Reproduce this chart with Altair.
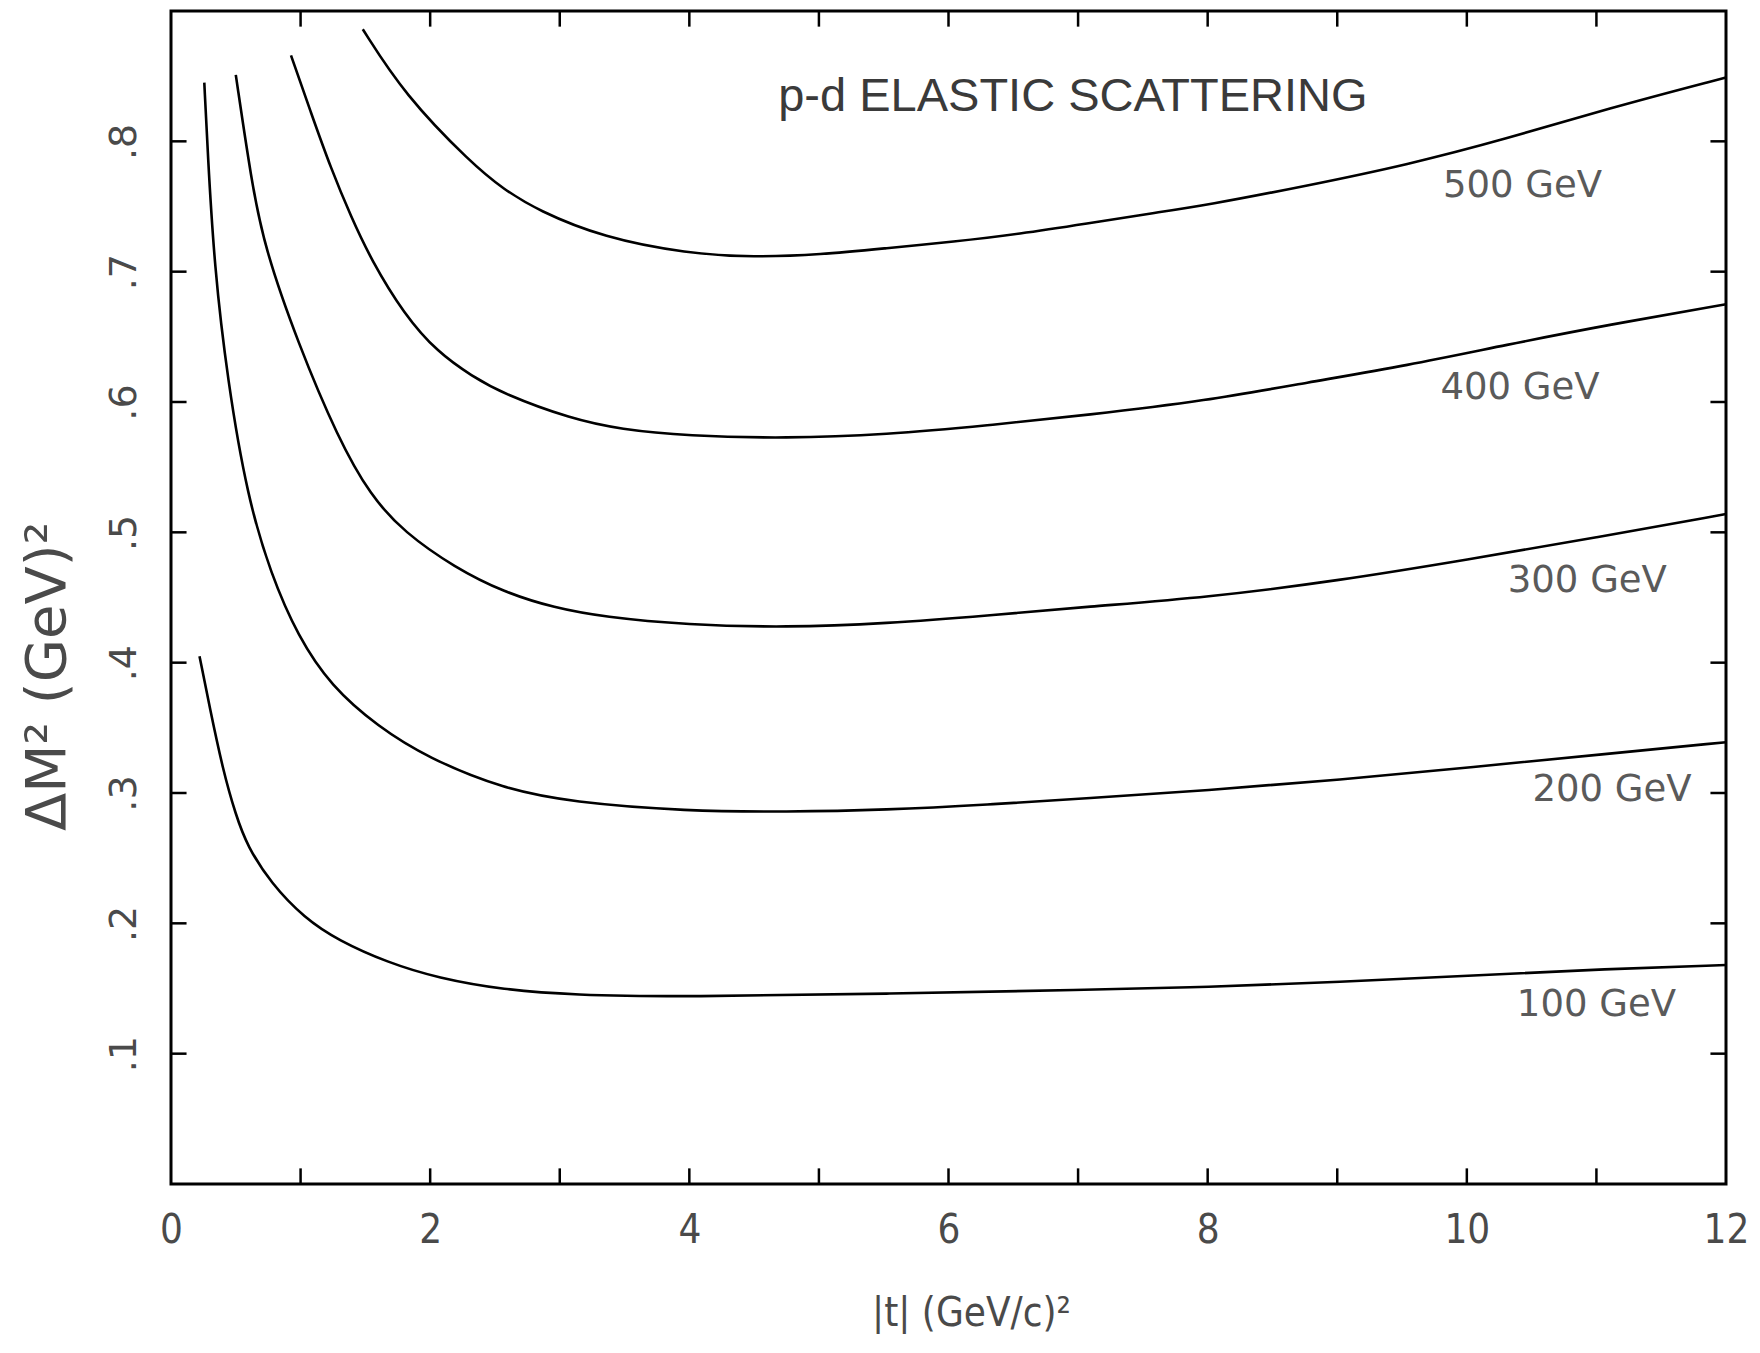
import altair as alt
import pandas as pd

# ---- data ----
t_100 = [0.22, 0.30, 0.40, 0.50, 0.59, 0.77, 1.03, 1.29, 1.67, 2.06, 2.57, 3.09, 3.98, 5.52, 7.07, 7.99, 9.02, 10.05, 11.08, 12.0]
m_100 = [0.405, 0.365, 0.318, 0.283, 0.259, 0.231, 0.204, 0.187, 0.170, 0.158, 0.149, 0.145, 0.1435, 0.146, 0.149, 0.151, 0.155, 0.160, 0.165, 0.168]

t_200 = [0.257, 0.283, 0.334, 0.437, 0.59, 0.77, 0.98, 1.235, 1.596, 1.98, 2.57, 3.09, 3.98, 4.75, 5.52, 6.30, 7.07, 7.99, 9.02, 10.05, 11.08, 12.0]
m_200 = [0.845, 0.792, 0.704, 0.616, 0.527, 0.468, 0.420, 0.382, 0.351, 0.327, 0.303, 0.293, 0.286, 0.2855, 0.287, 0.291, 0.296, 0.302, 0.310, 0.320, 0.330, 0.339]

t_300 = [0.50, 0.62, 0.72, 0.98, 1.29, 1.54, 1.80, 2.19, 2.57, 2.96, 3.34, 3.98, 4.75, 5.52, 6.30, 7.07, 7.99, 9.02, 10.0, 11.0, 12.0]
m_300 = [0.851, 0.770, 0.719, 0.645, 0.572, 0.528, 0.500, 0.473, 0.454, 0.442, 0.435, 0.429, 0.427, 0.430, 0.436, 0.443, 0.450, 0.463, 0.479, 0.496, 0.514]

t_400 = [0.926, 1.08, 1.235, 1.39, 1.54, 1.80, 2.06, 2.32, 2.57, 3.09, 3.47, 3.98, 4.75, 5.52, 6.30, 7.07, 7.99, 8.77, 9.54, 10.31, 11.08, 12.0]
m_400 = [0.866, 0.822, 0.779, 0.742, 0.710, 0.667, 0.638, 0.620, 0.606, 0.587, 0.579, 0.574, 0.572, 0.575, 0.582, 0.590, 0.601, 0.615, 0.628, 0.644, 0.659, 0.675]

t_500 = [1.48, 1.80, 2.32, 2.57, 2.83, 3.34, 3.98, 4.50, 5.01, 5.52, 6.04, 6.55, 7.07, 7.58, 7.99, 8.77, 9.54, 10.31, 11.08, 12.0]
m_500 = [0.886, 0.836, 0.783, 0.763, 0.747, 0.726, 0.714, 0.711, 0.713, 0.718, 0.723, 0.729, 0.737, 0.745, 0.751, 0.766, 0.782, 0.802, 0.825, 0.849]

series_names = ["100 GeV", "200 GeV", "300 GeV", "400 GeV", "500 GeV"]
series_t = [t_100, t_200, t_300, t_400, t_500]
series_m = [m_100, m_200, m_300, m_400, m_500]

x_tick_labels = [0, 2, 4, 6, 8, 10, 12]
x_minor_ticks = [1, 2, 3, 4, 5, 6, 7, 8, 9, 10, 11]
y_ticks = [0.1, 0.2, 0.3, 0.4, 0.5, 0.6, 0.7, 0.8]

plot_title = "p-d ELASTIC  SCATTERING"

# ---- annotation placement (data coordinates) ----
LABEL_T = [11.0, 11.12, 10.93, 10.41, 10.43]
LABEL_M = [0.137, 0.302, 0.463, 0.611, 0.766]
TITLE_T, TITLE_M = 6.96, 0.834

X_MAX, Y_MAX = 12, 0.9
TICK_LEN_X = 0.12
TICK_LEN_Y = 0.012

rows = []
for name, ts, ms in zip(series_names, series_t, series_m):
    for i, (a, b) in enumerate(zip(ts, ms)):
        rows.append({"series": name, "t": a, "m2": b, "order": i})
df = pd.DataFrame(rows)

lab_df = pd.DataFrame({"label": series_names, "t": LABEL_T, "m2": LABEL_M})
title_df = pd.DataFrame({"label": [plot_title], "t": [TITLE_T], "m2": [TITLE_M]})

tick_rows = []
for v in x_minor_ticks:
    tick_rows.append({"a": v, "b": v, "c": 0.0, "d": TICK_LEN_Y})
    tick_rows.append({"a": v, "b": v, "c": Y_MAX, "d": Y_MAX - TICK_LEN_Y})
for v in y_ticks:
    tick_rows.append({"a": 0.0, "b": TICK_LEN_X, "c": v, "d": v})
    tick_rows.append({"a": X_MAX, "b": X_MAX - TICK_LEN_X, "c": v, "d": v})
tick_df = pd.DataFrame(tick_rows)

xs = alt.Scale(domain=[0, X_MAX], nice=False, zero=False)
ys = alt.Scale(domain=[0, Y_MAX], nice=False, zero=False)

NARROW = "Liberation Sans Narrow, DejaVu Sans Condensed, Roboto Condensed, Liberation Sans"
TXT = "#4a4a4a"

x_axis = alt.Axis(
    values=x_tick_labels, format="d", title="|t| (GeV/c)²", grid=False, domain=False, ticks=False, tickSize=0,
    labelFont=NARROW, labelFontSize=40, labelColor=TXT, labelPadding=26, labelFlush=False,
    titleFont=NARROW, titleFontSize=40, titleColor=TXT, titleFontWeight="normal",
    titleX=800, titleY=129, titleBaseline="middle", titleAlign="center",
)
y_axis = alt.Axis(
    values=y_ticks, title="ΔM² (GeV)²", grid=False, domain=False, ticks=False, tickSize=0,
    labelExpr="'.' + round(datum.value * 10)",
    labelFont="DejaVu Sans", labelFontSize=38, labelColor=TXT, labelAngle=270,
    labelAlign="center", labelBaseline="bottom", labelPadding=28, labelFlush=False,
    titleFont="DejaVu Sans", titleFontSize=56, titleColor=TXT, titleFontWeight="normal",
    titleX=-124, titleY=665, titleBaseline="middle", titleAlign="center",
)

lines = alt.Chart(df).mark_line(color="black", strokeWidth=2.6, interpolate="basis").encode(
    x=alt.X("t:Q", scale=xs, axis=x_axis),
    y=alt.Y("m2:Q", scale=ys, axis=y_axis),
    detail="series:N",
    order="order:Q",
)

ticks = alt.Chart(tick_df).mark_rule(color="black", strokeWidth=2.5).encode(
    x=alt.X("a:Q", scale=xs), x2="b:Q",
    y=alt.Y("c:Q", scale=ys), y2="d:Q",
)

labels = alt.Chart(lab_df).mark_text(
    font="DejaVu Sans", fontSize=37, color="#5a5a5a", align="center", baseline="middle"
).encode(x=alt.X("t:Q", scale=xs), y=alt.Y("m2:Q", scale=ys), text="label:N")

title = alt.Chart(title_df).mark_text(
    font="Liberation Sans", fontSize=47, color="#3a3a3a", align="center", baseline="middle"
).encode(x=alt.X("t:Q", scale=xs), y=alt.Y("m2:Q", scale=ys), text="label:N")

chart = alt.layer(lines, ticks, labels, title).properties(
    width=1555, height=1173,
    background="white",
    autosize=alt.AutoSizeParams(type="none"),
    padding={"left": 163, "top": 3, "right": 26, "bottom": 150},
).configure_view(stroke="black", strokeWidth=3)

chart.save("out.html", embed_options={"renderer": "svg", "actions": False})
